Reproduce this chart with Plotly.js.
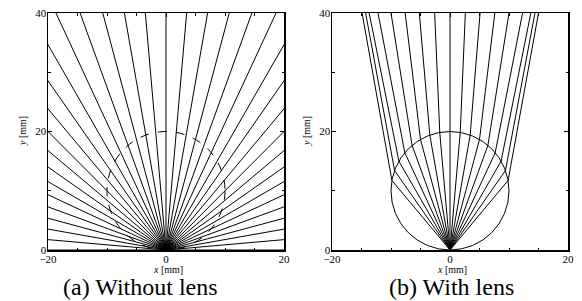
<!DOCTYPE html>
<html>
<head>
<meta charset="utf-8">
<script src="https://cdn.plot.ly/plotly-3.0.1.min.js"></script>
<style>html,body{margin:0;padding:0;background:#fff}#plot{width:582px;height:301px}</style>
</head>
<body>
<div id="plot"></div>
<script>
// ---- data ----
// (a) ray directions from the source at the origin, degrees from +x axis
const freeRayAngles = [0,5,10,15,20,25,30,35,40,45,50,55,60,65,70,75,80,85,90,
  95,100,105,110,115,120,125,130,135,140,145,150,155,160,165,170,175,180];
// (b) ray directions inside the lens, degrees from the vertical
const lensRayAngles = [-40,-35,-30,-25,-20,-15,-10,-5,0,5,10,15,20,25,30,35,40];
// (b) x where each refracted ray leaves the top of the frame (mm)
const lensRayTopX = [-14.9,-14.3,-13.7,-12.2,-10.0,-7.6,-5.2,-2.6,0,2.6,5.1,7.6,10.0,12.3,13.7,14.4,15.0];
const topY = 40;
// lens (circle) centre and radius, mm
const lensCenter = [0, 10];
const lensRadius = 10;
const xTicks = [-20, 0, 20];
const yTicks = [0, 20, 40];

// ---- build traces ----
const L = 80;
const ax = [], ay = [];
freeRayAngles.forEach(a => {
  const t = a * Math.PI / 180;
  ax.push(0, L * Math.cos(t), null);
  ay.push(0, L * Math.sin(t), null);
});
const bx = [], by = [];
lensRayAngles.forEach((a, i) => {
  const t = 2 * a * Math.PI / 180;
  const px = lensCenter[0] + lensRadius * Math.sin(t);
  const py = lensCenter[1] + lensRadius * Math.cos(t);
  bx.push(0, px, lensRayTopX[i], null);
  by.push(0, py, topY, null);
});

const lineStyle = {color: 'black', width: 1};
const traces = [
  {x: ax, y: ay, mode: 'lines', line: lineStyle, xaxis: 'x', yaxis: 'y', hoverinfo: 'skip'},
  {x: bx, y: by, mode: 'lines', line: lineStyle, xaxis: 'x2', yaxis: 'y2', hoverinfo: 'skip'}
];

const W = 582, H = 301;
const SERIF = 'Liberation Serif';
const tickFont = {family: SERIF, size: 11, color: 'black'};
function xAxis(domain, anchor) {
  return {domain: domain, anchor: anchor, range: [-20, 20], tickvals: xTicks, ticktext: xTicks.map(v => v < 0 ? '\u2212' + (-v) : String(v)),
    ticks: 'inside', ticklen: 4, tickcolor: 'black', showline: true, linecolor: 'black', linewidth: 1.5,
    mirror: 'allticks', showgrid: false, zeroline: false, tickfont: tickFont, fixedrange: true,
    ticklabelstandoff: -2,
    minor: {dtick: 5, tick0: 0, ticks: 'inside', ticklen: 2.5, tickcolor: 'black', showgrid: false}};
}
function yAxis(domain, anchor) {
  return {domain: domain, anchor: anchor, range: [0, 40], tickvals: yTicks,
    ticks: 'inside', ticklen: 4, tickcolor: 'black', showline: true, linecolor: 'black', linewidth: 1.5,
    mirror: 'allticks', showgrid: false, zeroline: false, tickfont: tickFont, fixedrange: true,
    ticklabelstandoff: -2,
    minor: {dtick: 10, tick0: 0, ticks: 'inside', ticklen: 2.5, tickcolor: 'black', showgrid: false}};
}
const yDom = [1 - 250 / H, 1 - 13 / H];
const labelFont = {family: SERIF, size: 10, color: 'black'};
const capFont = {family: SERIF, size: 24, color: 'black'};
const layout = {
  width: W, height: H,
  margin: {l: 0, r: 0, t: 0, b: 0},
  paper_bgcolor: 'white', plot_bgcolor: 'white',
  showlegend: false,
  xaxis: xAxis([48 / W, 284 / W], 'y'),
  yaxis: yAxis(yDom, 'x'),
  xaxis2: xAxis([332 / W, 568 / W], 'y2'),
  yaxis2: yAxis(yDom, 'x2'),
  shapes: [
    {type: 'circle', xref: 'x', yref: 'y', x0: lensCenter[0] - lensRadius, x1: lensCenter[0] + lensRadius,
     y0: lensCenter[1] - lensRadius, y1: lensCenter[1] + lensRadius, line: {color: 'black', width: 1, dash: 'dash'}},
    {type: 'circle', xref: 'x2', yref: 'y2', x0: lensCenter[0] - lensRadius, x1: lensCenter[0] + lensRadius,
     y0: lensCenter[1] - lensRadius, y1: lensCenter[1] + lensRadius, line: {color: 'black', width: 1}}
  ],
  annotations: [
    {text: '<i>x</i> [mm]', xref: 'paper', yref: 'paper', x: 168 / W, y: 1 - 269 / H, showarrow: false, font: labelFont, xanchor: 'center', yanchor: 'middle'},
    {text: '<i>x</i> [mm]', xref: 'paper', yref: 'paper', x: 452 / W, y: 1 - 269 / H, showarrow: false, font: labelFont, xanchor: 'center', yanchor: 'middle'},
    {text: '<i>y</i> [mm]', xref: 'paper', yref: 'paper', x: 22 / W, y: 1 - 131 / H, showarrow: false, font: labelFont, textangle: -90, xanchor: 'center', yanchor: 'middle'},
    {text: '<i>y</i> [mm]', xref: 'paper', yref: 'paper', x: 306 / W, y: 1 - 131 / H, showarrow: false, font: labelFont, textangle: -90, xanchor: 'center', yanchor: 'middle'},
    {text: '(a) Without lens', xref: 'paper', yref: 'paper', x: 140 / W, y: 1 - 287 / H, showarrow: false, font: capFont, xanchor: 'center', yanchor: 'middle'},
    {text: '(b) With lens', xref: 'paper', yref: 'paper', x: 451 / W, y: 1 - 287 / H, showarrow: false, font: capFont, xanchor: 'center', yanchor: 'middle'}
  ]
};
Plotly.newPlot('plot', traces, layout, {displayModeBar: false, staticPlot: true});
</script>
</body>
</html>
